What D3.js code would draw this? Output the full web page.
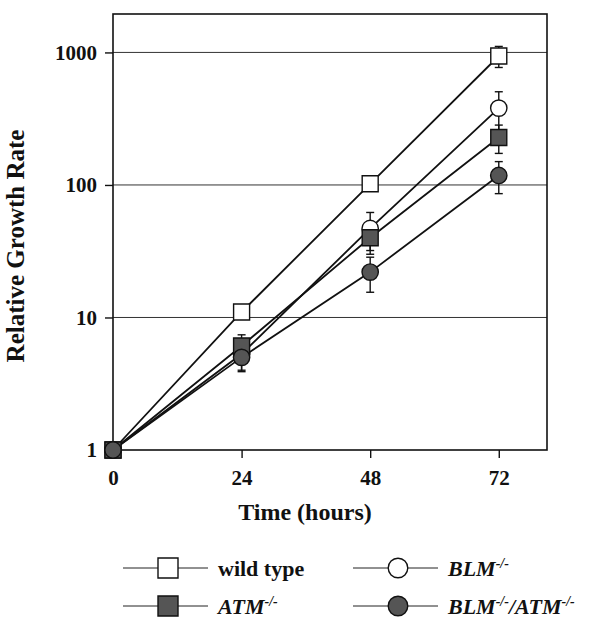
<!DOCTYPE html>
<html>
<head>
<meta charset="utf-8">
<script src="https://cdn.jsdelivr.net/npm/d3@7"></script>
<style>
  body { margin: 0; background: #fff; }
  svg { display: block; font-family: "Liberation Serif", "Times New Roman", serif; font-weight: bold; }
</style>
</head>
<body>
<svg id="chart" width="596" height="619"></svg>
<script>
const hours = [0, 24, 48, 72];

// mean relative growth (log scale)
const wildType = [1, 11, 102, 940];
const wildTypeErr = [0, 0.6, 5, 170];
const blm = [1, 5.3, 47, 380];
const blmErr = [0, 1.3, 15, 125];
const atm = [1, 6.1, 40, 228];
const atmErr = [0, 1.3, 10, 55];
const blmAtm = [1, 5.0, 22, 118];
const blmAtmErr = [0, 1.1, 6.5, 32];

const yTicks = [1, 10, 100, 1000];
const xTicks = [0, 24, 48, 72];

const series = [
    { key: "wt", values: wildType, err: wildTypeErr, shape: d3.symbolSquare, fill: "#fff",
      label: [["wild type", false, false]] },
    { key: "blm", values: blm, err: blmErr, shape: d3.symbolCircle, fill: "#fff",
      label: [["BLM", true, false], ["-/-", true, true]] },
    { key: "atm", values: atm, err: atmErr, shape: d3.symbolSquare, fill: "#555",
      label: [["ATM", true, false], ["-/-", true, true]] },
    { key: "blmatm", values: blmAtm, err: blmAtmErr, shape: d3.symbolCircle, fill: "#555",
      label: [["BLM", true, false], ["-/-", true, true], ["/ATM", true, false], ["-/-", true, true]] }
];

const svg = d3.select("#chart");

const x = d3.scaleLinear()
    .domain([0, 81])
    .range([113, 547]);

const y = d3.scaleLog()
    .domain([1, 1950])
    .range([450, 14]);

// grid lines at decades
svg.append("g")
    .selectAll("line")
    .data(yTicks.slice(1))
    .join("line")
    .attr("x1", x.range()[0])
    .attr("x2", x.range()[1])
    .attr("y1", d => y(d))
    .attr("y2", d => y(d))
    .attr("stroke", "#333")
    .attr("stroke-width", 1);

// frame
svg.append("rect")
    .attr("x", x.range()[0])
    .attr("y", y.range()[1])
    .attr("width", x.range()[1] - x.range()[0])
    .attr("height", y.range()[0] - y.range()[1])
    .attr("fill", "none")
    .attr("stroke", "#111")
    .attr("stroke-width", 1.6);

const yAxis = svg.append("g")
    .attr("transform", `translate(${x.range()[0]},0)`)
    .call(d3.axisLeft(y).tickValues(yTicks).tickFormat(d3.format("d")).tickSizeInner(8).tickSizeOuter(0).tickPadding(8));

const xAxis = svg.append("g")
    .attr("transform", `translate(0,${y.range()[0]})`)
    .call(d3.axisBottom(x).tickValues(xTicks).tickSizeInner(8).tickSizeOuter(0).tickPadding(12));

[yAxis, xAxis].forEach(g => {
    g.select(".domain").remove();
    g.selectAll(".tick line").attr("stroke", "#111").attr("stroke-width", 1.4);
    g.selectAll(".tick text")
        .attr("fill", "#111")
        .style("font-family", "Liberation Serif, serif")
        .style("font-weight", "bold")
        .style("font-size", "21px");
});

svg.append("text")
    .attr("transform", "translate(24,246) rotate(-90)")
    .attr("text-anchor", "middle")
    .style("font-size", "25px")
    .attr("fill", "#111")
    .text("Relative Growth Rate");

svg.append("text")
    .attr("x", 305)
    .attr("y", 520)
    .attr("text-anchor", "middle")
    .style("font-size", "24px")
    .attr("fill", "#111")
    .text("Time (hours)");

const line = d3.line()
    .x((d, i) => x(hours[i]))
    .y(d => y(d));

svg.append("g")
    .selectAll("path")
    .data(series)
    .join("path")
    .attr("d", d => line(d.values))
    .attr("fill", "none")
    .attr("stroke", "#111")
    .attr("stroke-width", 1.8);

// error bars
const errs = series.flatMap(s => s.values.map((v, i) => ({ t: hours[i], v: v, e: s.err[i] })))
    .filter(d => d.e > 0);

const eb = svg.append("g")
    .attr("stroke", "#111")
    .attr("stroke-width", 1.4)
    .selectAll("g")
    .data(errs)
    .join("g")
    .attr("transform", d => `translate(${x(d.t)},0)`);

eb.append("line")
    .attr("y1", d => y(d.v - d.e))
    .attr("y2", d => y(d.v + d.e));
eb.append("line")
    .attr("x1", -4).attr("x2", 4)
    .attr("y1", d => y(d.v - d.e)).attr("y2", d => y(d.v - d.e));
eb.append("line")
    .attr("x1", -4).attr("x2", 4)
    .attr("y1", d => y(d.v + d.e)).attr("y2", d => y(d.v + d.e));

// markers
svg.append("g")
    .selectAll("g")
    .data(series)
    .join("g")
    .attr("fill", d => d.fill)
    .attr("stroke", "#111")
    .attr("stroke-width", 1.4)
    .each(function (s) {
        d3.select(this).selectAll("path")
            .data(s.values)
            .join("path")
            .attr("transform", (d, i) => `translate(${x(hours[i])},${y(d)})`)
            .attr("d", d3.symbol().type(s.shape).size(s.shape === d3.symbolSquare ? 256 : 210));
    });

// legend
const legendCols = [123, 353];
const legendRows = [568, 606];

const lg = svg.append("g")
    .selectAll("g")
    .data(series)
    .join("g")
    .attr("transform", (d, i) => `translate(${legendCols[i % 2]},${legendRows[Math.floor(i / 2)]})`);

lg.append("line")
    .attr("x2", 85)
    .attr("stroke", "#222")
    .attr("stroke-width", 1);

lg.append("path")
    .attr("transform", "translate(45,0)")
    .attr("d", d => d3.symbol().type(d.shape).size(d.shape === d3.symbolSquare ? 400 : 300)())
    .attr("fill", d => d.fill)
    .attr("stroke", "#111")
    .attr("stroke-width", 1.4);

lg.append("text")
    .attr("x", 95)
    .attr("dy", "0.35em")
    .style("font-size", "22px")
    .attr("fill", "#111")
    .each(function (d) {
        const t = d3.select(this);
        d.label.forEach(([txt, ital, sup]) => {
            t.append("tspan")
                .style("font-style", ital ? "italic" : "normal")
                .style("font-size", sup ? "14px" : null)
                .attr("baseline-shift", sup ? "55%" : null)
                .text(txt);
        });
    });
</script>
</body>
</html>
